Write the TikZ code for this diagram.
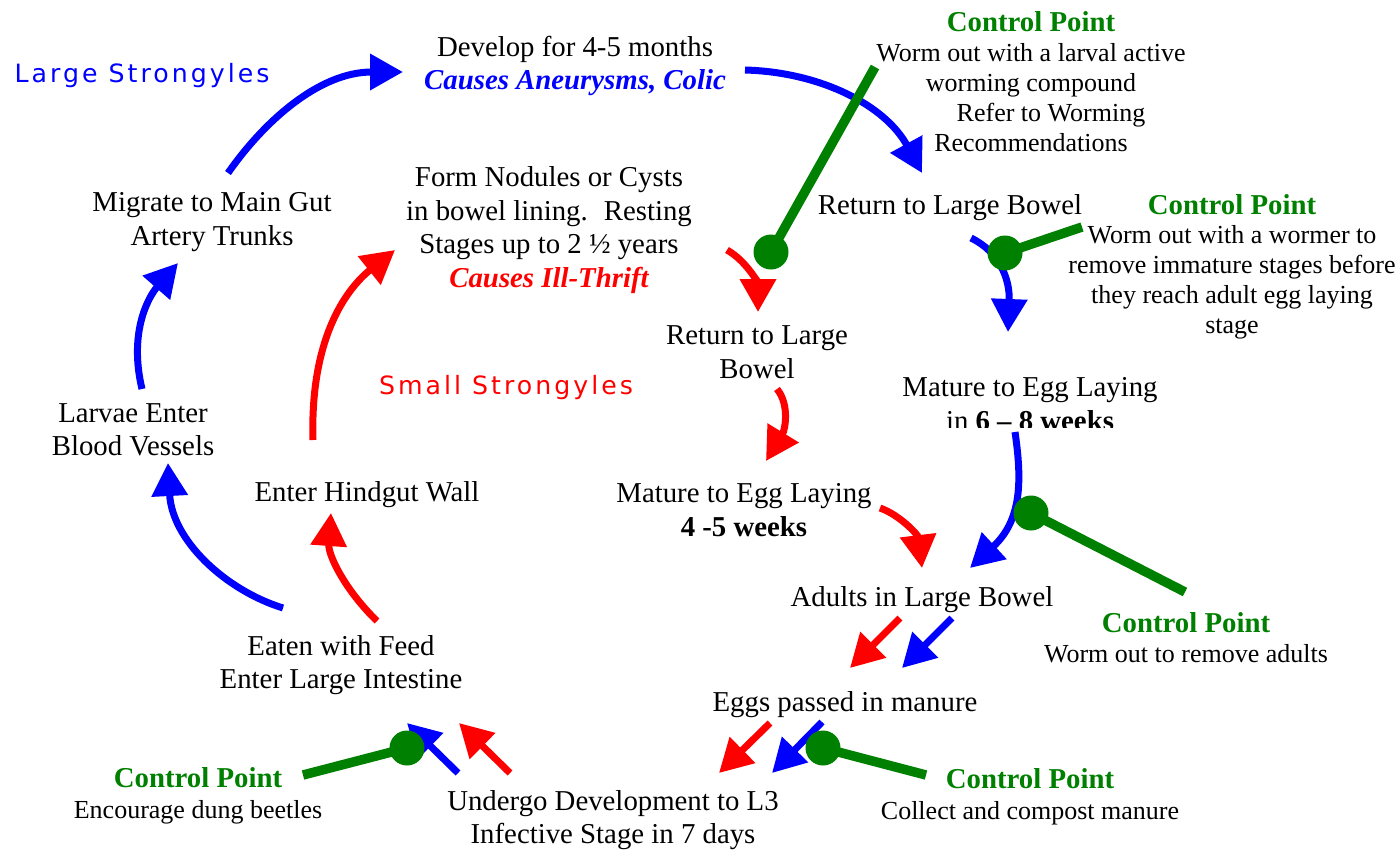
\documentclass[tikz,border=0pt]{standalone}
\usepackage{fontspec}
\setmainfont{Liberation Serif}
\newfontfamily\groupfont[LetterSpace=12]{DejaVu Sans}
\usetikzlibrary{arrows.meta}

\definecolor{cpgreen}{RGB}{0,128,0}

\tikzset{
  txt/.style={inner sep=0pt, align=center, font=\fontsize{14.4}{16.75}\selectfont},
  grouplabel/.style={inner sep=0pt, anchor=base, font=\groupfont\fontsize{12.6}{15}\selectfont},
  cptitle/.style={inner sep=0pt, anchor=base, text=cpgreen, font=\fontsize{14.4}{16.75}\selectfont\bfseries},
  cptext/.style={inner sep=0pt, align=center, font=\fontsize{13}{15}\selectfont},
  cpsmall/.style={inner sep=0pt, anchor=base, font=\fontsize{13}{15}\selectfont},
  bluearrow/.style={draw=blue, line width=3.5pt, -{Triangle[length=16.5pt,width=17.5pt]}},
  redarrow/.style={bluearrow, draw=red},
  cpline/.style={draw=cpgreen, line width=4.75pt},
  cpdot/.style={circle, fill=cpgreen, inner sep=0pt, minimum size=17.5pt},
}

\begin{document}
\begin{tikzpicture}[x=0.5pt, y=-0.5pt]
\useasboundingbox (0,0) rectangle (1398,852);

\node[grouplabel, text=blue] (large) at (142,82) {Large Strongyles};
\node[grouplabel, text=red] (small) at (506,394) {Small Strongyles};

\node[txt] (develop) at (575,66) {Develop for 4-5 months\\\textcolor{blue}{\bfseries\itshape Causes Aneurysms, Colic}};
\node[txt] (nodules) at (549,230) {Form Nodules or Cysts\\in bowel lining.\hspace{8pt}Resting\\Stages up to 2 ½ years\\\textcolor{red}{\bfseries\itshape Causes Ill-Thrift}};
\node[txt] (migrate) at (212,222) {Migrate to Main Gut\\Artery Trunks};
\node[txt, anchor=base] (retlarge) at (950,214) {Return to Large Bowel};
\node[txt] (retsmall) at (757,352) {Return to Large\\Bowel};
\node[txt] (larvae) at (133,430) {Larvae Enter\\Blood Vessels};
\node[txt, anchor=base] (hindgut) at (367,501) {Enter Hindgut Wall};
\begin{scope}
\clip (880,360) rectangle (1180,427);
\node[txt] (mature68) at (1030,404) {Mature to Egg Laying\\in \textbf{6 -- 8 weeks}};
\end{scope}
\node[txt] (mature45) at (744,510) {Mature to Egg Laying\\\textbf{4 -5 weeks}};
\node[txt, anchor=base] (adults) at (922,606) {Adults in Large Bowel};
\node[txt] (eaten) at (341,665) {Eaten with Feed\\Enter Large Intestine};
\node[txt, anchor=base] (eggs) at (845,711) {Eggs passed in manure};
\node[txt] (undergo) at (613,820) {Undergo Development to L3\\Infective Stage in 7 days};

\node[cptitle] (cp1) at (1031,31) {Control Point};
\node[cptext] (cp1text) at (1031,98) {Worm out with a larval active\\worming compound\\\hspace*{20pt}Refer to Worming\\Recommendations};
\node[cptitle] (cp2) at (1232,214) {Control Point};
\node[cptext] (cp2text) at (1232,282) {Worm out with a wormer to\\remove immature stages before\\they reach adult egg laying\\stage};
\node[cptitle] (cp3) at (1186,632) {Control Point};
\node[cpsmall] (cp3text) at (1186,662) {Worm out to remove adults};
\node[cptitle] (cp4) at (1030,788) {Control Point};
\node[cpsmall] (cp4text) at (1030,819) {Collect and compost manure};
\node[cptitle] (cp5) at (198,787) {Control Point};
\node[cpsmall] (cp5text) at (198,818) {Encourage dung beetles};

\coordinate (migrate-ob) at (228,173);
\coordinate (develop-ib) at (403,72);
\coordinate (develop-ob) at (745,70);
\coordinate (retlarge-ib) at (922,173);
\coordinate (retlarge-ob) at (971,238);
\coordinate (mature68-ib) at (1008,332);
\coordinate (mature68-ob) at (1015,432);
\coordinate (adults-ib) at (970,568);
\coordinate (adults-ob) at (952,618);
\coordinate (eggs-ib) at (902,668);
\coordinate (eggs-ob) at (822,722);
\coordinate (undergo-ib) at (772,773);
\coordinate (undergo-ob) at (458,773);
\coordinate (eaten-ib) at (407,723);
\coordinate (eaten-ob) at (283,608);
\coordinate (larvae-ib) at (168,463);
\coordinate (larvae-ob) at (142,389);
\coordinate (migrate-ib) at (178,263);

\coordinate (eaten-or) at (377,621);
\coordinate (hindgut-ir) at (331,513);
\coordinate (hindgut-or) at (313,440);
\coordinate (nodules-ir) at (395,250);
\coordinate (nodules-or) at (727,250);
\coordinate (retsmall-ir) at (758,312);
\coordinate (retsmall-or) at (777,389);
\coordinate (mature45-ir) at (766,461);
\coordinate (mature45-or) at (880,508);
\coordinate (adults-ir) at (922,568);
\coordinate (adults-or) at (900,618);
\coordinate (eggs-ir) at (850,668);
\coordinate (eggs-or) at (770,723);
\coordinate (undergo-ir) at (719,773);
\coordinate (undergo-or) at (510,773);
\coordinate (eaten-ir) at (459,723);

\draw[bluearrow] (migrate-ob) .. controls (265,120) and (320,72) .. (develop-ib);
\draw[bluearrow] (develop-ob) .. controls (820,72) and (885,105) .. (retlarge-ib);
\draw[bluearrow] (retlarge-ob) .. controls (1000,252) and (1010,280) .. (mature68-ib);
\draw[bluearrow] (mature68-ob) .. controls (1022,480) and (1022,520) .. (adults-ib);
\draw[bluearrow] (adults-ob) -- (eggs-ib);
\draw[bluearrow] (eggs-ob) -- (undergo-ib);
\draw[bluearrow] (undergo-ob) -- (eaten-ib);
\draw[bluearrow] (eaten-ob) .. controls (225,590) and (172,540) .. (larvae-ib);
\draw[bluearrow] (larvae-ob) .. controls (128,330) and (150,295) .. (migrate-ib);

\draw[redarrow] (eaten-or) .. controls (345,590) and (328,555) .. (hindgut-ir);
\draw[redarrow] (hindgut-or) .. controls (310,340) and (345,290) .. (nodules-ir);
\draw[redarrow] (nodules-or) .. controls (748,262) and (758,285) .. (retsmall-ir);
\draw[redarrow] (retsmall-or) .. controls (790,405) and (785,430) .. (mature45-ir);
\draw[redarrow] (mature45-or) .. controls (900,515) and (918,535) .. (adults-ir);
\draw[redarrow] (adults-or) -- (eggs-ir);
\draw[redarrow] (eggs-or) -- (undergo-ir);
\draw[redarrow] (undergo-or) -- (eaten-ir);

\coordinate (cp1-end) at (875,67);
\coordinate (cp2-end) at (1082,227);
\coordinate (cp3-end) at (1185,592);
\coordinate (cp4-end) at (926,775);
\coordinate (cp5-end) at (303,775);

\node[cpdot] (dot1) at (771,252) {};
\node[cpdot] (dot2) at (1005,253) {};
\node[cpdot] (dot3) at (1031,513) {};
\node[cpdot] (dot4) at (823,748) {};
\node[cpdot] (dot5) at (407,748) {};

\draw[cpline] (cp1-end) -- (dot1.center);
\draw[cpline] (cp2-end) -- (dot2.center);
\draw[cpline] (cp3-end) -- (dot3.center);
\draw[cpline] (cp4-end) -- (dot4.center);
\draw[cpline] (cp5-end) -- (dot5.center);
\end{tikzpicture}
\end{document}
